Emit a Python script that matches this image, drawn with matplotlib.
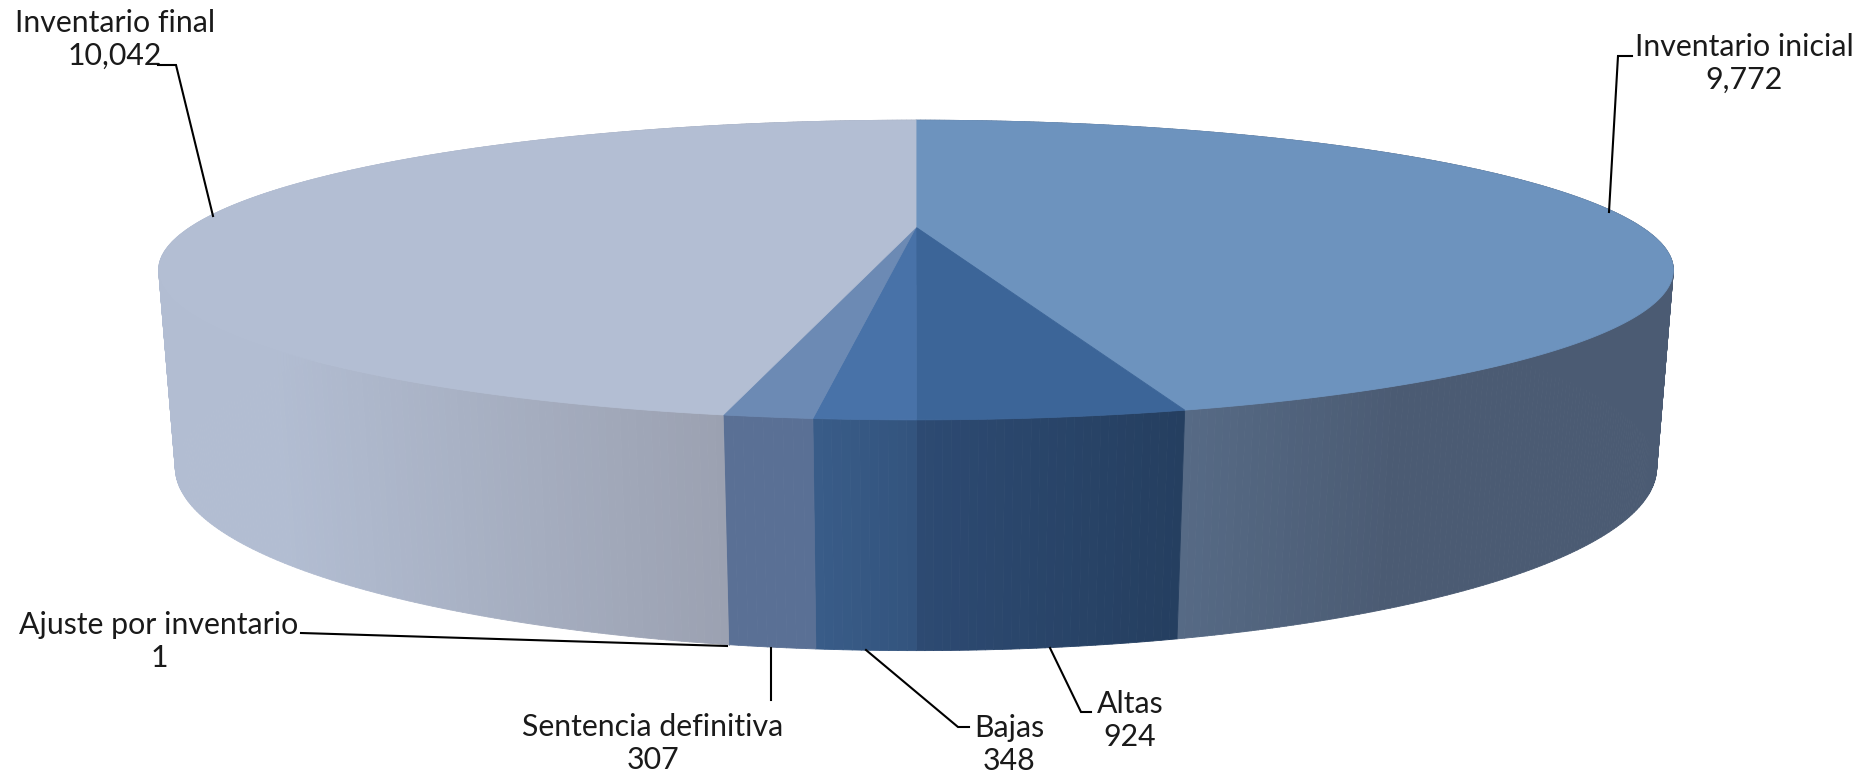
import matplotlib
matplotlib.use('Agg')
import matplotlib.pyplot as plt
from matplotlib.collections import PolyCollection
from matplotlib.colors import to_rgb
import numpy as np

plt.rcParams['font.family'] = ['Lato', 'DejaVu Sans']

# Datos
categorias = ['Inventario inicial', 'Altas', 'Bajas', 'Sentencia definitiva',
              'Ajuste por inventario', 'Inventario final']
valores = [9772, 924, 348, 307, 1, 10042]

# Colores de la cara superior y del lateral (inicio, fin)
color_top = ['#6d93be', '#3c6598', '#4872a8', '#6c8ab4', '#6c8ab4', '#b3bed3']
color_lado_ini = ['#4b5b73', '#253f60', '#33547e', '#5a7095', '#5a7095', '#9ba1b1']
color_lado_fin = ['#566a85', '#2d4a72', '#395c88', '#5a7095', '#5a7095', '#b2bdd2']

# Posicion de las etiquetas y lineas guia (pixeles)
pos_etiquetas = [(1744, 47), (1130, 704), (1009, 728), (653, 727), (159, 625), (115, 23)]
offset_valor = 33
guias = [
    [(1632, 56), (1618, 56), (1609, 212)],
    [(1091, 712), (1081, 712), (1050, 648)],
    [(969, 727), (958, 727), (866, 650)],
    [(771, 700), (771, 648)],
    [(301, 633), (727, 646)],
    [(158, 65), (176, 65), (213, 216)],
]

# Perspectiva del disco superior e inferior
cx = 916
top = dict(a=725.8, k=0.2857, A=227.2, B=-72.7)
bot = dict(a=711.3, k=0.279, A=416.3, B=-52.8)


def proyecta(theta, d):
    u, v = np.sin(theta), np.cos(theta)
    w = 1 + d['k'] * v
    return cx + d['a'] * u / w, (d['A'] + d['B'] * v) / w


angulos = np.radians(np.concatenate([[0], np.cumsum(valores)]) / np.sum(valores) * 360)

fig = plt.figure(figsize=(18.65, 7.74), dpi=100)
ax = fig.add_axes([0, 0, 1, 1])
ax.set_xlim(0, 1865)
ax.set_ylim(774, 0)
ax.axis('off')

# Lateral
for i in range(len(valores)):
    th = np.linspace(angulos[i], angulos[i + 1], max(int((angulos[i + 1] - angulos[i]) * 120), 2))
    xt, yt = proyecta(th, top)
    xb, yb = proyecta(th, bot)
    quads = [[(xt[j], yt[j]), (xt[j + 1], yt[j + 1]), (xb[j + 1], yb[j + 1]), (xb[j], yb[j])]
             for j in range(len(th) - 1)]
    # el degradado va con x: mas claro hacia el lado izquierdo de cada gajo
    xm = (xt[:-1] + xt[1:]) / 2
    if i == 0:
        f = np.clip((1400 - xm) / (1400 - 1187), 0, 1)
    elif i == 5:
        f = np.clip((725 - xm) / (725 - 270), 0, 1)
    else:
        f = (xm.max() - xm) / max(xm.max() - xm.min(), 1)
    c0, c1 = np.array(to_rgb(color_lado_ini[i])), np.array(to_rgb(color_lado_fin[i]))
    cols = [c0 + (c1 - c0) * g for g in f]
    ax.add_collection(PolyCollection(quads, facecolors=cols, edgecolors=cols, linewidths=0.6, zorder=2))

# Cara superior
for i in range(len(valores)):
    th = np.linspace(angulos[i], angulos[i + 1], 200)
    xt, yt = proyecta(th, top)
    ax.fill(np.r_[cx, xt], np.r_[top['A'], yt], color=color_top[i], lw=0.6, zorder=3)

# Guias y etiquetas
for g in guias:
    g = np.array(g)
    ax.plot(g[:, 0], g[:, 1], color='black', lw=1.5, zorder=4, solid_joinstyle='miter')

for nombre, val, (xe, ye) in zip(categorias, valores, pos_etiquetas):
    ax.text(xe, ye, nombre, ha='center', va='center', fontsize=21.8, color='#1a1a1a')
    ax.text(xe, ye + offset_valor, f'{val:,}', ha='center', va='center', fontsize=21.8,
            color='#1a1a1a')

fig.savefig('out.png', dpi=100)
